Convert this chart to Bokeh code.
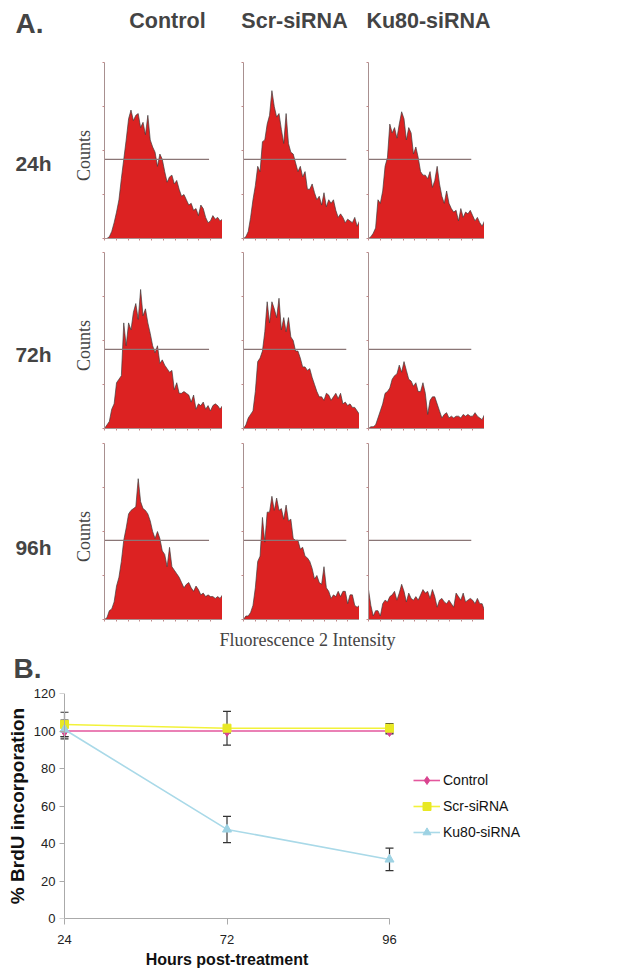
from math import pi
from bokeh.plotting import figure
from bokeh.layouts import column, row
from bokeh.models import (Range1d, Label, FixedTicker, CustomJSTickFormatter, Whisker,
                          ColumnDataSource, Legend, LegendItem, TeeHead, LinearAxis)
from bokeh.embed import file_html
from bokeh.resources import INLINE

# ---------------- data ----------------
col_titles = ["Control", "Scr-siRNA", "Ku80-siRNA"]
row_titles = ["24h", "72h", "96h"]

# histogram counts (% of axis height) per channel bin, rows = time, cols = treatment
h24_control = [0, 0, 1, 4, 9, 15, 22, 34, 45, 56, 68, 73, 67, 70, 71, 63, 66, 59, 70, 56, 52, 49, 41, 48, 45, 38, 32, 35, 36, 31, 33, 28, 24, 25, 22, 19, 20, 16, 17, 13, 19, 17, 12, 9, 10, 13, 11, 12, 10, 11]
h24_scr = [0, 1, 4, 12, 22, 30, 41, 38, 55, 56, 65, 70, 84, 75, 69, 71, 62, 54, 71, 54, 49, 48, 43, 38, 41, 35, 38, 28, 28, 31, 26, 22, 24, 19, 26, 18, 22, 20, 22, 16, 12, 14, 12, 9, 11, 10, 9, 12, 7, 10]
h24_ku80 = [0, 1, 3, 6, 22, 20, 27, 41, 46, 65, 60, 63, 57, 65, 72, 68, 56, 63, 60, 48, 52, 46, 38, 36, 36, 34, 38, 29, 33, 41, 31, 24, 20, 27, 20, 17, 15, 16, 10, 17, 12, 15, 14, 16, 13, 10, 12, 9, 7, 10]
h72_control = [0, 2, 4, 11, 14, 26, 28, 30, 60, 47, 60, 56, 66, 71, 62, 79, 64, 68, 60, 54, 47, 43, 47, 37, 39, 36, 34, 32, 33, 22, 26, 20, 20, 21, 20, 19, 15, 19, 11, 14, 13, 15, 11, 13, 10, 13, 14, 13, 11, 13]
h72_scr = [0, 2, 6, 8, 10, 21, 38, 40, 44, 55, 72, 60, 72, 68, 63, 74, 56, 63, 55, 63, 52, 50, 44, 44, 40, 35, 35, 33, 34, 29, 25, 21, 18, 18, 16, 20, 19, 16, 18, 20, 17, 20, 14, 15, 13, 14, 12, 12, 10, 8]
h72_ku80 = [0, 1, 1, 2, 6, 10, 14, 20, 21, 23, 28, 30, 31, 36, 32, 38, 33, 28, 27, 24, 26, 21, 21, 26, 20, 8, 16, 18, 18, 14, 10, 6, 8, 9, 6, 7, 6, 7, 7, 6, 8, 7, 8, 7, 7, 9, 7, 6, 5, 8]
h96_control = [0, 1, 5, 6, 10, 19, 24, 33, 45, 52, 60, 62, 63, 64, 80, 67, 63, 62, 60, 56, 50, 46, 50, 46, 39, 37, 30, 41, 30, 28, 26, 24, 21, 18, 20, 21, 18, 16, 19, 17, 14, 15, 13, 14, 13, 13, 12, 13, 12, 14]
h96_scr = [0, 2, 2, 4, 8, 18, 33, 36, 58, 44, 61, 61, 70, 62, 69, 62, 63, 57, 65, 56, 57, 46, 45, 45, 40, 41, 36, 35, 33, 29, 23, 25, 21, 20, 30, 18, 16, 12, 14, 13, 16, 13, 16, 16, 9, 14, 14, 8, 7, 8]
h96_ku80 = [17, 8, 2, 5, 5, 2, 9, 11, 10, 13, 14, 16, 11, 15, 20, 16, 10, 15, 12, 11, 13, 11, 14, 17, 15, 16, 12, 17, 13, 7, 11, 12, 10, 9, 11, 9, 7, 15, 13, 11, 15, 10, 11, 12, 11, 9, 12, 9, 9, 5]

gate_level = 45        # M1 gate height (% of axis)
gate_end_frac = 0.886  # gate right end as fraction of channel range

# panel B
hours = ["24", "72", "96"]
control = [100, 100, 100]
control_err = [3, 1, 1.5]
scr = [103.5, 101.5, 101.5]
scr_err = [6.5, 9, 2.5]
ku80 = [100.8, 47.5, 31.5]
ku80_err = [5, 7, 6]
y_ticks = [0, 20, 40, 60, 80, 100, 120]

# ---------------- styles ----------------
RED = "#dc2222"
AX = "#a89090"
SANS = "Liberation Sans"
SERIF = "Liberation Serif"
PAGE_W = 610


def blank(w, h, xr, yr):
    p = figure(width=w, height=h, x_range=xr, y_range=yr, toolbar_location=None,
               output_backend="svg", tools="",
               min_border_left=0, min_border_right=0, min_border_top=0, min_border_bottom=0)
    p.axis.visible = False
    p.grid.visible = False
    p.outline_line_color = None
    return p


def hist_fig(vals, fw, bl, bb):
    n = len(vals)
    xs = list(range(n))
    fh = 176
    p = figure(width=bl + fw, height=fh + bb, x_range=Range1d(0, n - 1), y_range=Range1d(0, 100),
               toolbar_location=None, output_backend="svg", tools="",
               min_border_left=bl, min_border_right=0, min_border_top=0, min_border_bottom=bb)
    p.grid.visible = False
    p.outline_line_color = None
    p.varea(x=xs, y1=0, y2=vals, fill_color=RED)
    p.line(x=xs, y=vals, line_color="#3c3c3c", line_width=0.8, line_alpha=0.85)
    p.segment(x0=[0], y0=[gate_level], x1=[(n - 1) * gate_end_frac], y1=[gate_level],
              line_color="#8a7676", line_width=1.2)
    p.yaxis.ticker = FixedTicker(ticks=[0, 25, 50, 75, 100])
    p.xaxis.ticker = FixedTicker(ticks=[(n - 1) * k / 10 for k in range(11)])
    for ax in (p.xaxis[0], p.yaxis[0]):
        ax.formatter = CustomJSTickFormatter(code="return ''")
        ax.major_label_text_font_size = "1px"
        ax.major_label_standoff = 0
        ax.axis_line_color = AX
        ax.major_tick_line_color = "#c08a8a"
        ax.major_tick_in = 0
        ax.major_tick_out = 2
        ax.minor_tick_line_color = None
    return p


grid_vals = [[h24_control, h24_scr, h24_ku80],
             [h72_control, h72_scr, h72_ku80],
             [h96_control, h96_scr, h96_ku80]]
col_frame_w = [118, 116, 116]
col_border_l = [8, 21, 9]
row_border_b = [14, 15, 7]

cols = []
for c in range(3):
    figs = [hist_fig(grid_vals[r][c], col_frame_w[c], col_border_l[c], row_border_b[r]) for r in range(3)]
    cols.append(column(*figs, spacing=0))

grid_h = sum(176 + b for b in row_border_b)

# header
header = blank(PAGE_W, 62, Range1d(0, PAGE_W), Range1d(62, 0))
header.add_layout(Label(x=15, y=23, text="A.", text_font=SANS, text_font_size="28px",
                        text_font_style="bold", text_baseline="middle", text_align="left"))
for txt, cx in zip(col_titles, [167, 294, 428]):
    header.add_layout(Label(x=cx, y=20, text=txt, text_font=SANS, text_font_size="21.5px",
                            text_font_style="bold", text_baseline="middle", text_align="center"))

# left labels
left = blank(96, grid_h, Range1d(0, 96), Range1d(grid_h, 0))
for txt, by, cy in zip(row_titles, [101, 292, 485], [93, 283, 474]):
    left.add_layout(Label(x=33, y=by, text=txt, text_font=SANS, text_font_size="21px",
                          text_font_style="bold", text_baseline="middle", text_align="center"))
    left.add_layout(Label(x=83, y=cy, text="Counts", text_font=SERIF, text_font_size="18px",
                          angle=pi / 2, text_baseline="middle", text_align="center"))

panel_a = row(left, *cols, spacing=0)

# strip with x label and B.
strip = blank(PAGE_W, 59, Range1d(0, PAGE_W), Range1d(59, 0))
strip.add_layout(Label(x=307, y=13, text="Fluorescence 2 Intensity", text_font=SERIF,
                       text_font_size="18px", text_baseline="middle", text_align="center"))
strip.add_layout(Label(x=13, y=42, text="B.", text_font=SANS, text_font_size="28px",
                       text_font_style="bold", text_baseline="middle", text_align="left"))

# panel B
xpos = list(range(len(hours)))
pad = 6 / 162.5
pb = figure(frame_width=337, frame_height=225, x_range=Range1d(-pad, 2 + pad), y_range=Range1d(0, 120),
            toolbar_location=None, output_backend="svg", tools="",
            min_border_left=58, min_border_right=0, min_border_top=8,
            min_border_bottom=55)
pb.grid.visible = False
pb.outline_line_color = None

lows, highs, bases = [], [], []
for vals, errs in ((control, control_err), (scr, scr_err), (ku80, ku80_err)):
    for xi, v, e in zip(xpos, vals, errs):
        bases.append(xi)
        lows.append(v - e)
        highs.append(v + e)
wsrc = ColumnDataSource(dict(base=bases, lower=lows, upper=highs))
wh = Whisker(source=wsrc, base="base", lower="lower", upper="upper", line_color="#333333",
             line_width=1.2, level="underlay",
             upper_head=TeeHead(size=8, line_color="#333333", line_width=1.2),
             lower_head=TeeHead(size=8, line_color="#333333", line_width=1.2))
pb.add_layout(wh)

series = [("Control", control, "#e4579d", "#d9438f", "diamond", 11),
          ("Scr-siRNA", scr, "#f2f23a", "#e8e824", "square", 8),
          ("Ku80-siRNA", ku80, "#a9d9e8", "#9dd2e3", "triangle", 9)]
items = []
for name, vals, lc, mc, mk, sz in series:
    ln = pb.line(x=xpos, y=vals, line_color=lc, line_width=1.6)
    sc = pb.scatter(x=xpos, y=vals, marker=mk, size=sz, fill_color=mc, line_color=mc)
    items.append(LegendItem(label=name, renderers=[ln, sc]))

leg = Legend(items=items, location="center_left", margin=18, padding=10, spacing=6,
             glyph_width=27, glyph_height=20, label_height=20, label_standoff=3,
             label_text_font=SANS, label_text_font_size="14px", label_text_color="#111111",
             border_line_color=None, background_fill_alpha=0)
pb.add_layout(leg, "right")

# y axis: labels + title in the left panel, line + ticks pinned at the 24 h category
ya = pb.yaxis[0]
ya.ticker = FixedTicker(ticks=y_ticks)
ya.axis_line_color = None
ya.major_tick_line_color = None
ya.major_tick_out = 0
ya.major_tick_in = 0
ya.major_label_standoff = 3
ya.axis_label = "% BrdU incorporation"
ya.axis_label_standoff = 3
ya.axis_label_text_font = SANS
ya.axis_label_text_font_size = "19px"
ya.axis_label_text_font_style = "bold"
ya.axis_label_text_color = "#111111"

ya2 = LinearAxis(fixed_location=0, ticker=FixedTicker(ticks=y_ticks), bounds=(0, 120),
                 formatter=CustomJSTickFormatter(code="return ''"),
                 major_label_text_font_size="1px", major_label_standoff=0,
                 major_tick_in=0, major_tick_out=5, axis_line_color="#aaaaaa",
                 major_tick_line_color="#aaaaaa", minor_tick_line_color=None)
pb.add_layout(ya2, "left")

xa = pb.xaxis[0]
xa.ticker = FixedTicker(ticks=xpos)
xa.major_label_overrides = {i: h for i, h in zip(xpos, hours)}
xa.bounds = (0, 2)
xa.major_tick_out = 6
xa.major_tick_in = 0
xa.major_label_standoff = 10
xa.axis_line_color = "#aaaaaa"
xa.major_tick_line_color = "#aaaaaa"
xa.axis_label = "Hours post-treatment"
xa.axis_label_standoff = 4
xa.axis_label_text_font = SANS
xa.axis_label_text_font_size = "16px"
xa.axis_label_text_font_style = "bold"
xa.axis_label_text_color = "#111111"
for ax in (xa, ya):
    ax.minor_tick_line_color = None
    ax.major_label_text_font = SANS
    ax.major_label_text_font_size = "13px"
    ax.major_label_text_color = "#222222"

page = column(row(header, spacing=0), panel_a, row(strip, spacing=0), row(pb, spacing=0), spacing=0)
open("out.html", "w").write(file_html(page, INLINE))
